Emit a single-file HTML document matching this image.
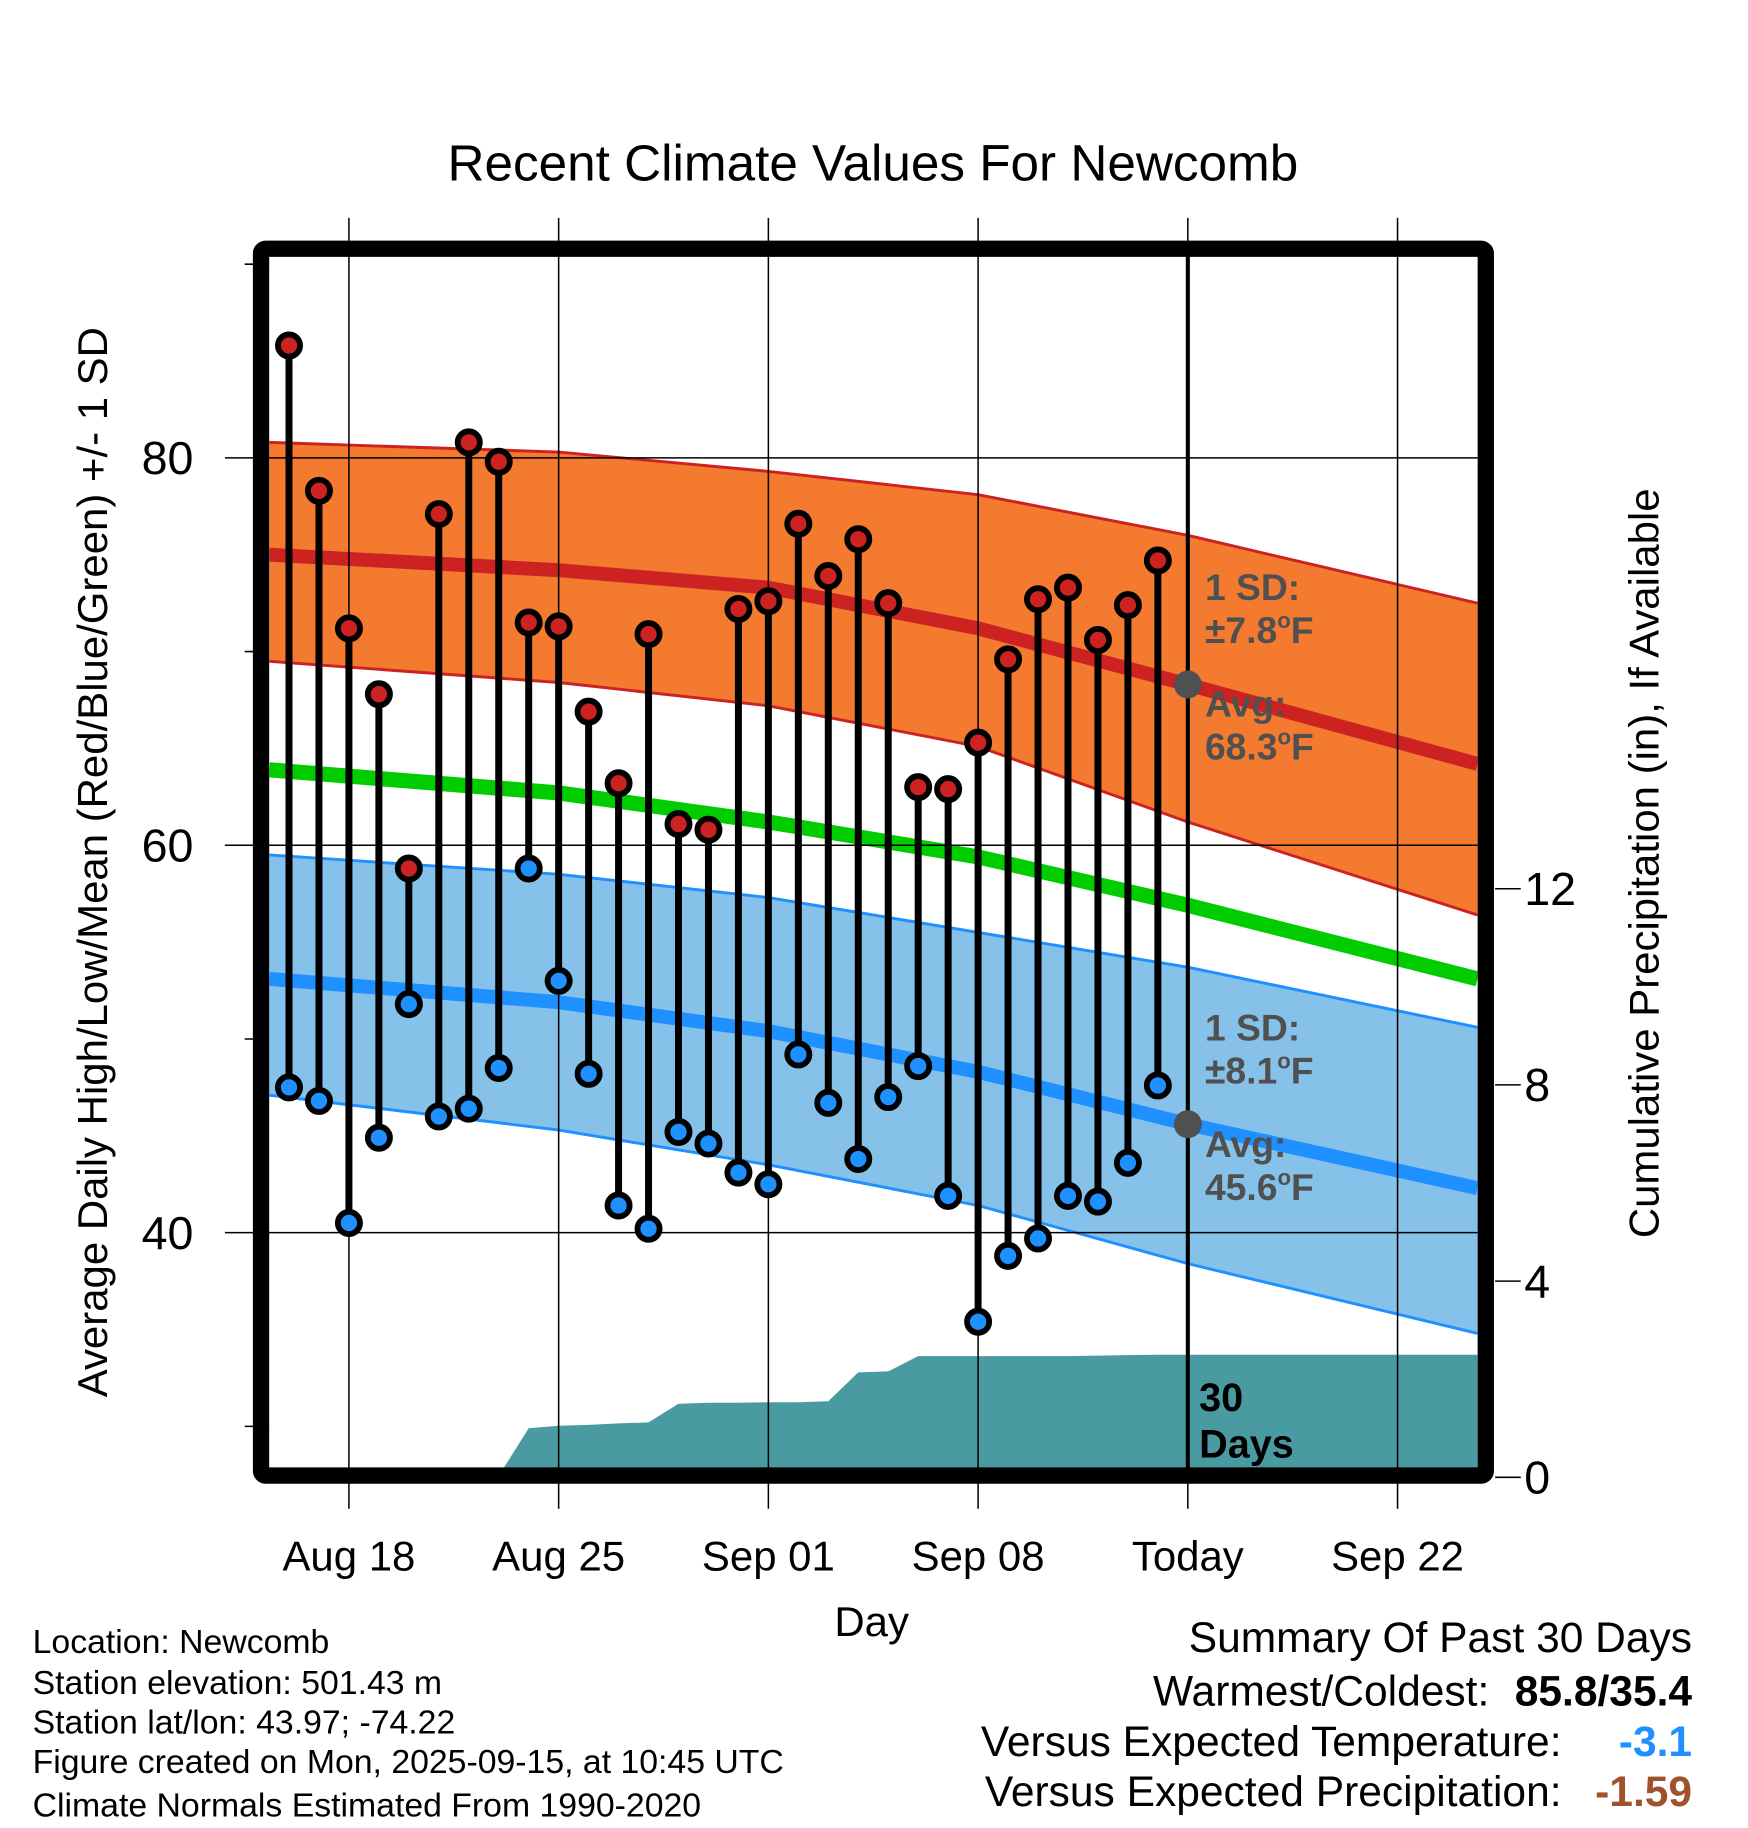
<!DOCTYPE html>
<html><head><meta charset="utf-8"><style>
html,body{margin:0;padding:0;background:#fff;}
svg{display:block;font-family:"Liberation Sans",Arial,sans-serif;}
</style></head><body>
<svg id="chart" width="1748" height="1828" viewBox="0 0 1500 1569" preserveAspectRatio="none" xmlns="http://www.w3.org/2000/svg">
<defs><clipPath id="plotclip"><rect x="231" y="220" width="1037" height="1040"/></clipPath></defs>
<rect width="1500" height="1569" fill="#fff"/>
<text x="749" y="155" font-size="44" text-anchor="middle">Recent Climate Values For Newcomb</text>
<g id="bands" clip-path="url(#plotclip)"></g>
<g id="grid"></g>
<g id="marks"></g>
<g id="frame"></g>
<g id="labels"></g>
<text transform="translate(92,740) rotate(-90)" font-size="36" text-anchor="middle">Average Daily High/Low/Mean (Red/Blue/Green) +/- 1 SD</text>
<text transform="translate(1423,741) rotate(-90)" font-size="36" text-anchor="middle">Cumulative Precipitation (in), If Available</text>
<text x="748" y="1404" font-size="36" text-anchor="middle">Day</text>
<g font-size="29">
<text x="28" y="1419">Location: Newcomb</text>
<text x="28" y="1454">Station elevation: 501.43 m</text>
<text x="28" y="1488">Station lat/lon: 43.97; -74.22</text>
<text x="28" y="1522">Figure created on Mon, 2025-09-15, at 10:45 UTC</text>
<text x="28" y="1559">Climate Normals Estimated From 1990-2020</text>
</g>
<g font-size="36.5">
<text x="1452" y="1418" text-anchor="end">Summary Of Past 30 Days</text>
<text x="1278" y="1464" text-anchor="end">Warmest/Coldest:</text>
<text x="1452" y="1464" text-anchor="end" font-weight="bold">85.8/35.4</text>
<text x="1340" y="1507" text-anchor="end">Versus Expected Temperature:</text>
<text x="1452" y="1507" text-anchor="end" font-weight="bold" fill="#1e90ff">-3.1</text>
<text x="1340" y="1550" text-anchor="end">Versus Expected Precipitation:</text>
<text x="1452" y="1550" text-anchor="end" font-weight="bold" fill="#a0522d">-1.59</text>
</g>
</svg>
<script>
// data
const normDays = [-0.66, 9, 16, 23, 30, 39.67];
const highUpper = [80.8, 80.3, 79.3, 78.1, 76.0, 72.5];
const highMean  = [75.0, 74.2, 73.3, 71.2, 68.3, 64.2];
const highLower = [69.5, 68.4, 67.2, 65.1, 61.2, 56.4];
const meanNorm  = [63.9, 62.7, 61.2, 59.4, 56.9, 53.1];
const lowUpper  = [59.5, 58.5, 57.3, 55.5, 53.7, 50.6];
const lowMean   = [53.1, 51.9, 50.4, 48.3, 45.6, 42.3];
const lowLower  = [47.1, 45.3, 43.5, 41.4, 38.4, 34.8];
const highs = [85.8,78.3,71.2,67.8,58.8,77.1,80.8,79.8,71.5,71.3,66.9,63.2,70.9,61.1,60.8,72.2,72.6,76.6,73.9,75.8,72.5,63.0,62.9,65.3,69.6,72.7,73.3,70.6,72.4,74.7];
const lows  = [47.5,46.8,40.5,44.9,51.8,46.0,46.4,48.5,58.8,53.0,48.2,41.4,40.2,45.2,44.6,43.1,42.5,49.2,46.7,43.8,47.0,48.6,41.9,35.4,38.8,39.7,41.9,41.6,43.6,47.6];
const precipCum = [0,0,0,0,0.02,0.03,0.03,0.03,1.0,1.05,1.07,1.1,1.12,1.5,1.52,1.52,1.53,1.53,1.55,2.14,2.16,2.47,2.47,2.47,2.47,2.47,2.47,2.48,2.49,2.5];
const xTickDays = [2, 9, 16, 23, 30, 37];
const xTickLabels = ["Aug 18","Aug 25","Sep 01","Sep 08","Today","Sep 22"];
const yTicks = [40, 60, 80];
const yMinor = [30, 50, 70, 90];
const pTicks = [0, 4, 8, 12];

const NS = "http://www.w3.org/2000/svg";
const X = d => 248 + d * 25.71;
const Y = t => 393 - (t - 80) * 16.625;
const YP = p => 1268 - p * 42.1;
function mk(tag, attrs, parent){ const e=document.createElementNS(NS,tag); for(const k in attrs) e.setAttribute(k,attrs[k]); parent.appendChild(e); return e; }
const bands=document.getElementById('bands'), grid=document.getElementById('grid'), marks=document.getElementById('marks'), frame=document.getElementById('frame'), labels=document.getElementById('labels');
const pts = arr => arr.map((v,i)=>X(normDays[i]).toFixed(1)+","+Y(v).toFixed(1));
function band(up, lo, fill, edge, name){
  const p = mk('polygon',{points: pts(up).concat(pts(lo).reverse()).join(' '), fill: fill}, bands);
  
  
  [up,lo].forEach(a=>{ const l=mk('polyline',{points:pts(a).join(' '),fill:'none',stroke:edge,'stroke-width':2.5},bands);
    
     });
}
function line(a, color, w, name){
  const l = mk('polyline',{points:pts(a).join(' '),fill:'none',stroke:color,'stroke-width':w},bands);
  
  
}
band(highUpper, highLower, '#f47a30', '#cc2222', 'high-sd-band');
line(highMean, '#cc2222', 12, 'normal-high-line');
band(lowUpper, lowLower, '#85c1e9', '#1e90ff', 'low-sd-band');
line(lowMean, '#1e90ff', 12, 'normal-low-line');
line(meanNorm, '#00cc00', 13, 'normal-mean-line');
// precipitation
let pp = [X(-0.66)+","+YP(0)];
precipCum.forEach((v,i)=>pp.push(X(i)+","+YP(v)));
pp.push(X(39.67)+","+YP(precipCum[precipCum.length-1]));
pp.push(X(39.67)+","+YP(-1)); pp.push(X(-0.66)+","+YP(-1));
const pr = mk('polygon',{points:pp.join(' '),fill:'#4a9aa2'},bands);


// grid
xTickDays.forEach((d,i)=>{
  const g = mk('line',{x1:X(d),x2:X(d),y1:187,y2:1295,stroke:'#000','stroke-width':1.3},grid);
  
  
  const t = mk('text',{x:X(d),y:1348,'font-size':36,'text-anchor':'middle'},labels);
  t.textContent = xTickLabels[i];
  
  
});
yTicks.forEach(v=>{
  const g = mk('line',{x1:193,x2:1268,y1:Y(v),y2:Y(v),stroke:'#000','stroke-width':1.3},grid);
  
  
  const t = mk('text',{x:166,y:Y(v)+14,'font-size':40,'text-anchor':'end'},labels);
  t.textContent = v;
  
  
});
yMinor.forEach(v=>{
  const g = mk('line',{x1:210,x2:231,y1:Y(v),y2:Y(v),stroke:'#000','stroke-width':1.3},grid);
  
  
});
pTicks.forEach(v=>{
  const g = mk('line',{x1:1283,x2:1305,y1:YP(v),y2:YP(v),stroke:'#000','stroke-width':1.3},grid);
  
  
  const t = mk('text',{x:1308,y:YP(v)+14,'font-size':40},labels);
  t.textContent = v;
  
  
});
// today line
const tl = mk('line',{x1:X(30),x2:X(30),y1:220,y2:1262,stroke:'#000','stroke-width':3.5},marks);


// stems and dots
highs.forEach((h,i)=>{
  const s = mk('line',{x1:X(i),x2:X(i),y1:Y(h),y2:Y(lows[i]),stroke:'#000','stroke-width':6},marks);
  
  
});
highs.forEach((h,i)=>{
  const c = mk('circle',{cx:X(i),cy:Y(h),r:9.5,fill:'#cc2222',stroke:'#000','stroke-width':5},marks);
  
  
  const d = mk('circle',{cx:X(i),cy:Y(lows[i]),r:9.5,fill:'#1e90ff',stroke:'#000','stroke-width':5},marks);
  
  
});
// today normal dots
[highMean[4], lowMean[4]].forEach(v=>{
  const c = mk('circle',{cx:X(30),cy:Y(v),r:12,fill:'#505050'},marks);
  
  
});
// annotations
function ann(x,y,txt,fill,name,fs){
  const t = mk('text',{x:x,y:y,'font-size':fs||32,'font-weight':'bold',fill:fill},marks);
  t.innerHTML = txt;
  
  
}
const sup = '<tspan font-size="19" dy="-13">o</tspan><tspan dy="13">F</tspan>';
ann(1034,515,'1 SD:','#505050','high-sd-label');
ann(1034,552,'±7.8'+sup,'#505050','high-sd-value');
ann(1034,615,'Avg:','#505050','high-avg-label');
ann(1034,652,'68.3'+sup,'#505050','high-avg-value');
ann(1034,893,'1 SD:','#505050','low-sd-label');
ann(1034,930,'±8.1'+sup,'#505050','low-sd-value');
ann(1034,993,'Avg:','#505050','low-avg-label');
ann(1034,1030,'45.6'+sup,'#505050','low-avg-value');
ann(1029,1211,'30','#000','days-count-label',34);
ann(1029,1251,'Days','#000','days-label',34);
// frame
const fr = mk('rect',{x:224,y:213.5,width:1051,height:1053,fill:'none',stroke:'#000','stroke-width':14,rx:4},frame);


</script>
</body></html>
